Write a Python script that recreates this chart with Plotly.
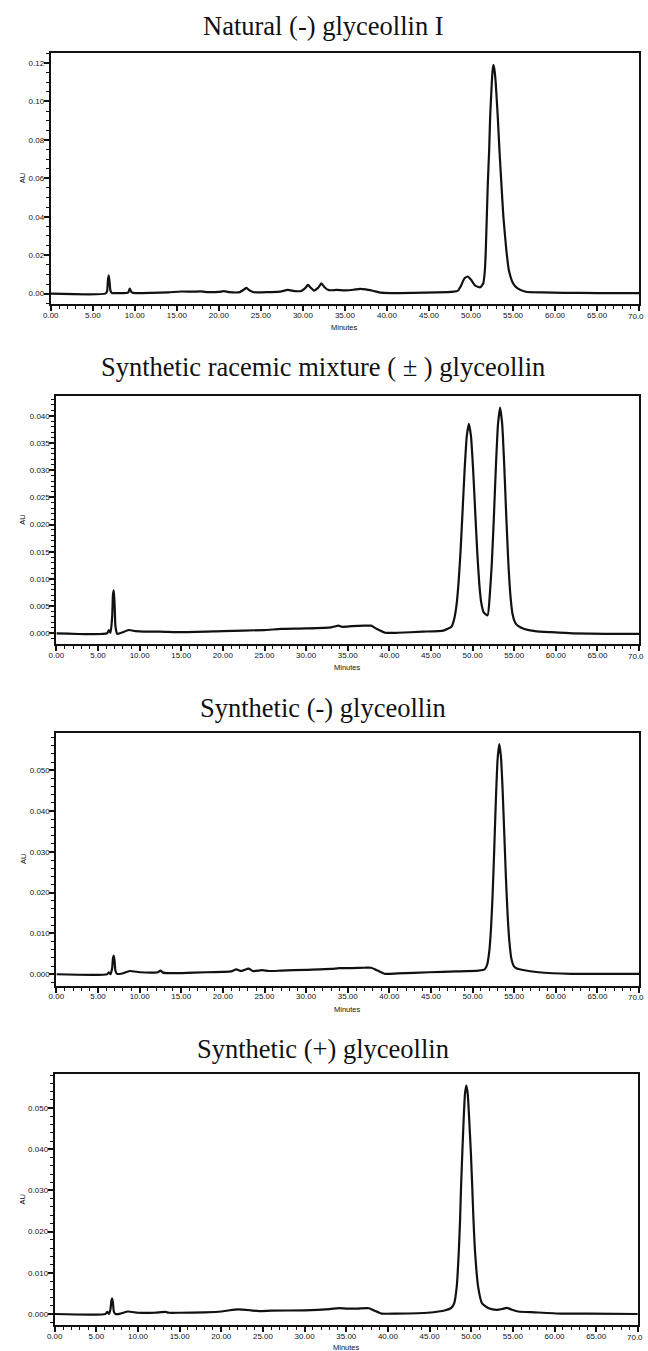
import plotly.graph_objects as go

W, H = 648, 1351

# ---------------- data ----------------
titles = ["Natural (-) glyceollin I",
          "Synthetic racemic mixture ( ± ) glyceollin",
          "Synthetic (-) glyceollin",
          "Synthetic (+) glyceollin"]

t1 = [0, 6.5, 6.7, 6.8, 6.9, 7.0, 7.1, 7.3, 7.6, 8.5,
      9.2, 9.4, 9.6, 10.0, 12, 14, 15.5, 17, 17.8, 18.5,
      20.0, 20.6, 21.2, 22.5, 23.0, 23.3, 23.6, 24.2, 26, 27.3,
      28.2, 29.0, 29.8, 30.3, 30.6, 30.9, 31.3, 31.8, 32.2, 32.6,
      33.1, 34.0, 35.0, 36.0, 36.8, 37.5, 38.3, 39.3, 40.5, 43,
      46, 47.9, 48.4, 48.8, 49.2, 49.6, 50.0, 50.5, 51.1, 51.46,
      51.65, 51.76, 51.88, 52.0, 52.16, 52.28, 52.47, 52.57, 52.67, 52.8,
      52.94, 53.18, 53.38, 53.61, 53.85, 54.2, 54.5, 55.0, 55.5, 56.5,
      58.5, 61, 65, 70]
au1 = [0, 0, 0.0012, 0.0070, 0.0095, 0.0060, 0.0015, 0.0002, 0.0003, 0.0003,
       0.0005, 0.0026, 0.0008, 0.0003, 0.0004, 0.0007, 0.0011, 0.0010, 0.0012, 0.0008,
       0.0009, 0.0013, 0.0008, 0.0008, 0.0022, 0.0030, 0.0018, 0.0007, 0.0008, 0.0010,
       0.0019, 0.0013, 0.0014, 0.0030, 0.0045, 0.0032, 0.0016, 0.0030, 0.0053, 0.0032,
       0.0018, 0.0019, 0.0017, 0.0020, 0.0025, 0.0022, 0.0015, 0.0005, 0.0003, 0.0004,
       0.0006, 0.0010, 0.0014, 0.0040, 0.0078, 0.0089, 0.0072, 0.0042, 0.0033, 0.0054,
       0.0123, 0.0228, 0.0401, 0.0575, 0.0748, 0.0922, 0.1096, 0.1160, 0.1190, 0.1160,
       0.1096, 0.0922, 0.0748, 0.0575, 0.0401, 0.0228, 0.0123, 0.0054, 0.0028, 0.0010,
       0.0006, 0.0004, 0.0003, 0.0003]

t2 = [0, 6.1, 6.3, 6.5, 6.7, 6.8, 6.9, 7.0, 7.1, 7.3,
      7.8, 8.7, 9.5, 10.5, 12.5, 15, 20, 25, 27, 30,
      33, 33.9, 34.3, 35.5, 37.0, 37.8, 38.5, 39.5, 41, 44,
      46.5, 47.45, 47.75, 48.05, 48.3, 48.55, 48.8, 49.05, 49.3, 49.55,
      49.8, 50.05, 50.3, 50.55, 50.8, 51.05, 51.35, 51.8, 52.05, 52.3,
      52.55, 52.8, 53.05, 53.3, 53.55, 53.8, 54.05, 54.3, 54.55, 54.8,
      55.1, 55.5, 56.2, 57.5, 59.5, 62, 66, 70]
au2 = [0, 0, 0.0006, 0.0001, 0.0030, 0.0072, 0.0079, 0.0050, 0.0012, -0.0001,
       0.0001, 0.0006, 0.0004, 0.0003, 0.0003, 0.0002, 0.0004, 0.0006, 0.0008, 0.0009,
       0.0011, 0.0014, 0.0012, 0.0013, 0.0014, 0.0014, 0.0008, 0.0001, 0.0001, 0.0003,
       0.0005, 0.0012, 0.0024, 0.0050, 0.0091, 0.0151, 0.0227, 0.0304, 0.0363, 0.0385,
       0.0363, 0.0304, 0.0227, 0.0151, 0.0091, 0.0055, 0.0038, 0.0033, 0.0068, 0.0127,
       0.0212, 0.0308, 0.0385, 0.0415, 0.0385, 0.0308, 0.0212, 0.0127, 0.0068, 0.0035,
       0.0020, 0.0013, 0.0008, 0.0004, 0.0002, 0.0, -0.0001, -0.0001]

t3 = [0, 6.1, 6.3, 6.5, 6.7, 6.8, 6.9, 7.0, 7.1, 7.3,
      7.9, 8.8, 10, 11.5, 12.2, 12.5, 12.8, 13.5, 15, 18,
      20, 21.0, 21.6, 22.2, 22.9, 23.1, 23.6, 24.7, 25.5, 27,
      30, 33, 34.0, 35.5, 37.0, 37.8, 38.6, 39.5, 41, 44.8,
      48, 50.7, 51.45, 51.75, 52.0, 52.2, 52.4, 52.6, 52.8, 53.0,
      53.2, 53.4, 53.6, 53.8, 54.0, 54.2, 54.4, 54.65, 54.95, 55.3,
      55.9, 57.9, 61.9, 66, 70]
au3 = [0, 0, 0.0005, 0.0, 0.0015, 0.0040, 0.0046, 0.0030, 0.0008, 0.0001,
       0.0002, 0.0008, 0.0005, 0.0004, 0.0005, 0.0009, 0.0004, 0.0003, 0.0003, 0.0005,
       0.0006, 0.0007, 0.0012, 0.0008, 0.0013, 0.0014, 0.0008, 0.0010, 0.0008, 0.0009,
       0.0011, 0.0013, 0.0015, 0.0015, 0.0016, 0.0016, 0.0009, 0.0001, 0.0002, 0.0005,
       0.0007, 0.0009, 0.0012, 0.0024, 0.0056, 0.0109, 0.0194, 0.0308, 0.0431, 0.0527,
       0.0564, 0.0534, 0.0454, 0.0346, 0.0237, 0.0147, 0.0084, 0.0039, 0.0020, 0.0014,
       0.0011, 0.0005, 0.0001, 0.0001, 0.0001]

t4 = [0, 6.1, 6.3, 6.5, 6.7, 6.8, 6.9, 7.0, 7.1, 7.3,
      7.9, 8.8, 10, 12, 13.3, 13.7, 15, 18, 20, 21,
      22.0, 23.5, 24.5, 26, 30, 33, 34.1, 35, 36.3, 37.7,
      38.4, 39.2, 41, 44.8, 46.9, 47.6, 47.95, 48.26, 48.5, 48.66,
      48.78, 48.93, 49.09, 49.25, 49.41, 49.58, 49.76, 49.96, 50.12, 50.27,
      50.47, 50.83, 51.3, 52.1, 53.08, 53.7, 54.27, 54.8, 55.65, 57.6,
      60.8, 64, 70]
au4 = [0, 0, 0.0005, 0.0, 0.0012, 0.0032, 0.0038, 0.0025, 0.0006, 0.0,
       0.0001, 0.0006, 0.0003, 0.0003, 0.0005, 0.0003, 0.0003, 0.0004, 0.0006, 0.0009,
       0.0011, 0.0009, 0.0007, 0.0008, 0.0009, 0.0012, 0.0014, 0.0013, 0.0013, 0.0014,
       0.0008, 0.0001, 0.0001, 0.0003, 0.0009, 0.0015, 0.0026, 0.0066, 0.0148, 0.0229,
       0.0310, 0.0391, 0.0472, 0.0535, 0.0555, 0.0535, 0.0472, 0.0391, 0.0310, 0.0229,
       0.0148, 0.0066, 0.0026, 0.0014, 0.0010, 0.0012, 0.0015, 0.0011, 0.0006, 0.0004,
       0.0001, 0.0001, 0.0]

x_range = [0, 70]
x_major = 5
x_minor = 1
last_x_label = "70.0"   # the reference cuts "70.00" at the page edge
y_ranges = [[-0.0054, 0.1252], [-0.00197, 0.0437], [-0.0028, 0.0592], [-0.00275, 0.0583]]
y_major = [0.02, 0.005, 0.01, 0.01]
y_minor = [0.005, 0.001, 0.002, 0.002]
y_formats = [".2f", ".3f", ".3f", ".3f"]
x_label = "Minutes"
y_label = "AU"

# ---------------- layout geometry (pixels) ----------------
boxes = [  # left, right, top, bottom
    (43.3, 639.0, 53.0, 304.0),
    (49.0, 639.0, 395.7, 644.0),
    (49.0, 639.0, 732.7, 985.7),
    (47.3, 637.7, 1074.0, 1325.3),
]
title_y = [25.5, 366.5, 708.0, 1049.0]
title_x = 319.0
xlabel_gap = [23.5, 23.5, 23.5, 22.0]

series = [(t1, au1), (t2, au2), (t3, au3), (t4, au4)]

fig = go.Figure()
layout = dict(
    width=W, height=H,
    margin=dict(l=0, r=0, t=0, b=0),
    paper_bgcolor="white", plot_bgcolor="white",
    showlegend=False,
    annotations=[],
)

sans = "Liberation Sans, Arial, sans-serif"
tickfont = dict(family=sans, size=8, color="#111")
for i, ((tx, ay), (l, r, t, b)) in enumerate(zip(series, boxes)):
    n = "" if i == 0 else str(i + 1)
    fig.add_trace(go.Scatter(x=tx, y=ay, mode="lines",
                             line=dict(color="#111", width=2.2, shape="spline", smoothing=0.5),
                             xaxis="x" + n, yaxis="y" + n, hoverinfo="skip"))
    layout["xaxis" + n] = dict(
        domain=[l / W, r / W], anchor="y" + n, range=x_range,
        tick0=0, dtick=x_major, tickformat=".2f", ticklabelstandoff=-3,
        ticks="outside", ticklen=5, tickwidth=1.5, tickcolor="#111",
        showline=True, linewidth=2, linecolor="#111", mirror=True,
        showgrid=False, zeroline=False, tickfont=tickfont,
        minor=dict(tick0=0, dtick=x_minor, ticks="outside", ticklen=3,
                   tickwidth=1.2, tickcolor="#111", showgrid=False),
    )
    layout["yaxis" + n] = dict(
        domain=[1 - b / H, 1 - t / H], anchor="x" + n, range=y_ranges[i],
        tick0=0, dtick=y_major[i], tickformat=y_formats[i], ticklabelstandoff=-2,
        ticks="outside", ticklen=5, tickwidth=1.5, tickcolor="#111",
        showline=True, linewidth=2, linecolor="#111", mirror=True,
        showgrid=False, zeroline=False, tickfont=tickfont,
        minor=dict(tick0=0, dtick=y_minor[i], ticks="outside", ticklen=3,
                   tickwidth=1.2, tickcolor="#111", showgrid=False),
    )
    layout["annotations"].append(dict(
        text=titles[i], x=title_x / W, y=1 - title_y[i] / H,
        xref="paper", yref="paper", xanchor="center", yanchor="middle",
        showarrow=False,
        font=dict(family="Liberation Serif, Times New Roman, serif", size=26.5, color="#111"),
    ))
    # the last x tick label, clipped by the page edge in the reference
    layout["annotations"].append(dict(
        text=last_x_label, x=x_range[1], xref="x" + n, xanchor="left", xshift=-12,
        y=1 - (b + 12) / H, yref="paper", yanchor="middle",
        showarrow=False, borderpad=0, font=tickfont,
    ))
    layout["annotations"].append(dict(
        text=x_label, x=(l + r) / 2 / W, y=1 - (b + xlabel_gap[i]) / H,
        xref="paper", yref="paper", xanchor="center", yanchor="middle",
        showarrow=False,
        font=dict(family=sans, size=7.5, color="#111"),
    ))
    layout["annotations"].append(dict(
        text=y_label, x=15 / W, y=1 - (t + b) / 2 / H, textangle=-90,
        xref="paper", yref="paper", xanchor="center", yanchor="middle",
        showarrow=False,
        font=dict(family=sans, size=7.5, color="#111"),
    ))

fig.update_layout(**layout)
fig.write_html("out.html")
